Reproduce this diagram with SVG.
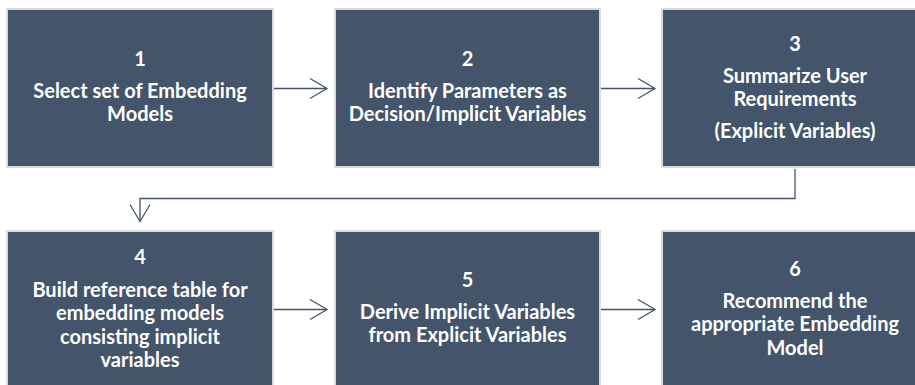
<svg xmlns="http://www.w3.org/2000/svg" width="915" height="385" viewBox="0 0 915 385">
  <defs>
    <marker id="open-arrow" markerUnits="userSpaceOnUse" markerWidth="24" markerHeight="24" viewBox="-20 -12 24 24" refX="0" refY="0" orient="auto">
      <path d="M-17,-10 L0,0 L-17,10" fill="none" stroke="#44546A" stroke-width="1.3"/>
    </marker>
    <style>
      .box { fill: #44546A; stroke: #DADADA; stroke-width: 2; }
      .lbl { fill: #FFFFFF; font-family: Lato, "Open Sans", "Liberation Sans", sans-serif; font-weight: bold; font-size: 20px; text-anchor: middle; }
      .conn { fill: none; stroke: #44546A; stroke-width: 1.3; marker-end: url(#open-arrow); }
    </style>
  </defs>

  <g id="connectors">
    <path class="conn" d="M274,88.5 H327"/>
    <path class="conn" d="M601,88.5 H655"/>
    <path class="conn" d="M795,169 V198.5 H140 V221.5"/>
    <path class="conn" d="M274,309.5 H327"/>
    <path class="conn" d="M601,309.5 H655"/>
  </g>

  <g id="step1">
    <rect class="box" x="7" y="9" width="266" height="158"/>
    <text class="lbl" x="140" y="66">1</text>
    <text class="lbl" x="140" y="98">Select set of Embedding</text>
    <text class="lbl" x="140" y="121.3">Models</text>
  </g>

  <g id="step2">
    <rect class="box" x="335" y="9" width="265" height="158"/>
    <text class="lbl" x="467.5" y="66">2</text>
    <text class="lbl" x="467.5" y="98">Identify Parameters as</text>
    <text class="lbl" x="467.5" y="121.3">Decision/Implicit Variables</text>
  </g>

  <g id="step3">
    <rect class="box" x="662" y="9" width="266" height="158"/>
    <text class="lbl" x="795" y="51">3</text>
    <text class="lbl" x="795" y="82.5">Summarize User</text>
    <text class="lbl" x="795" y="106">Requirements</text>
    <text class="lbl" x="795" y="138">(Explicit Variables)</text>
  </g>

  <g id="step4">
    <rect class="box" x="7" y="231" width="266" height="158"/>
    <text class="lbl" x="140" y="264">4</text>
    <text class="lbl" x="140" y="297">Build reference table for</text>
    <text class="lbl" x="140" y="320.3">embedding models</text>
    <text class="lbl" x="140" y="343.6">consisting implicit</text>
    <text class="lbl" x="140" y="366.9">variables</text>
  </g>

  <g id="step5">
    <rect class="box" x="335" y="231" width="265" height="158"/>
    <text class="lbl" x="467.5" y="287">5</text>
    <text class="lbl" x="467.5" y="319">Derive Implicit Variables</text>
    <text class="lbl" x="467.5" y="342.3">from Explicit Variables</text>
  </g>

  <g id="step6">
    <rect class="box" x="662" y="231" width="266" height="158"/>
    <text class="lbl" x="795" y="276">6</text>
    <text class="lbl" x="795" y="308">Recommend the</text>
    <text class="lbl" x="795" y="331.3">appropriate Embedding</text>
    <text class="lbl" x="795" y="354.6">Model</text>
  </g>
</svg>
